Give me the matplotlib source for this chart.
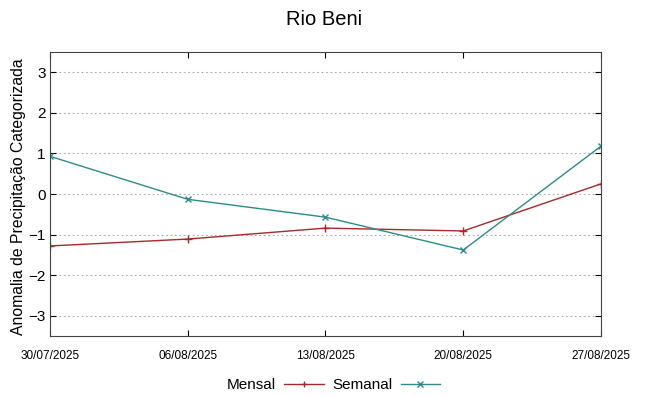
import matplotlib.pyplot as plt

plt.rcParams['font.family'] = ['Liberation Sans', 'DejaVu Sans']

datas = ["30/07/2025", "06/08/2025", "13/08/2025", "20/08/2025", "27/08/2025"]
mensal = [-1.28, -1.11, -0.84, -0.91, 0.25]
semanal = [0.93, -0.13, -0.57, -1.38, 1.18]
yticks = [-3, -2, -1, 0, 1, 2, 3]

fig = plt.figure(figsize=(6.49, 3.96), dpi=100)
ax = fig.add_axes([0.077, 0.1515, 0.849, 0.717])

x = list(range(len(datas)))
ax.plot(x, mensal, color='#a52a2a', lw=1, marker='+', ms=6, mew=1, label='Mensal')
ax.plot(x, semanal, color='#2b8b8b', lw=1, marker='x', ms=5, mew=1, label='Semanal')

ax.set_xlim(0, len(datas) - 1)
ax.set_ylim(-3.5, 3.5)
ax.set_xticks(x)
ax.set_xticklabels(datas, fontsize=8.5)
ax.set_yticks(yticks)
ax.tick_params(axis='y', labelsize=11, direction='in', length=4, right=True, pad=3)
ax.tick_params(axis='x', direction='in', length=4, top=True, pad=10)
ax.grid(axis='y', linestyle=(0, (1.5, 2.5)), color='#aaaaaa', lw=0.8)
for s in ax.spines.values():
    s.set_color('#444444')

ax.set_ylabel('Anomalia de Precipitação Categorizada', fontsize=11.3, labelpad=1)
ax.yaxis.set_label_coords(-0.043, 0.49)
fig.suptitle('Rio Beni', fontsize=14.5, y=0.975)

leg = ax.legend(loc='upper center', bbox_to_anchor=(0.515, -0.1), ncol=2, frameon=False,
                markerfirst=False, fontsize=11, handlelength=2.6, columnspacing=0.6,
                handletextpad=0.5, markerscale=0.8)

plt.savefig('out.png', dpi=100)
